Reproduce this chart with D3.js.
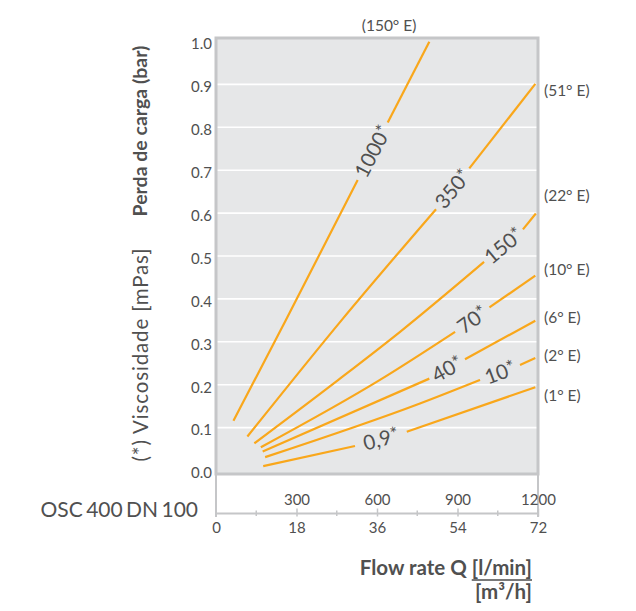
<!DOCTYPE html>
<html><head><meta charset="utf-8">
<script src="https://cdn.jsdelivr.net/npm/d3@7/dist/d3.min.js"></script>
<style>
body{margin:0;background:#fff;}
text{font-family:Lato,"Noto Sans",sans-serif;fill:#505050;}
</style>
</head><body>
<svg id="chart" width="636" height="611"></svg>
<script>
// ---------- data ----------
const viscosity = ["1000", "350", "150", "70", "40", "10", "0,9"];
const engler = ["(150° E)", "(51° E)", "(22° E)", "(10° E)", "(6° E)", "(2° E)", "(1° E)"];
// where each Engler label sits, in chart units [Q l/min, bar]
const englerAt = [[645, 1.037], [1200, 0.885], [1200, 0.64], [1200, 0.467], [1200, 0.355], [1200, 0.267], [1200, 0.174]];
// curves: [Q l/min, pressure drop bar]
const c1000 = [[65, 0.115], [261, 0.35], [528, 0.676], [640, 0.81], [795, 0.998]];
const c350 = [[117, 0.078], [469, 0.35], [820, 0.608], [944, 0.703], [1190, 0.9]];
const c150 = [[143, 0.062], [456, 0.21], [686, 0.322], [999, 0.485], [1144, 0.561], [1192, 0.598]];
const c70 = [[167, 0.053], [611, 0.21], [891, 0.322], [1019, 0.379], [1190, 0.453]];
const c40 = [[174, 0.043], [795, 0.213], [928, 0.258], [1190, 0.348]];
const c10 = [[183, 0.030], [760, 0.155], [984, 0.210], [1133, 0.245], [1190, 0.261]];
const c09 = [[176, 0.009], [518, 0.056], [711, 0.089], [1190, 0.193]];
const curves = [c1000, c350, c150, c70, c40, c10, c09];
// label gap sits between point i and i+1
const labelGap = [2, 2, 3, 2, 1, 2, 1];
const yTicks = [0, 0.1, 0.2, 0.3, 0.4, 0.5, 0.6, 0.7, 0.8, 0.9, 1.0];
const lminTicks = [300, 600, 900, 1200];
const lminMinor = [150, 450, 750, 1050];
const m3hTicks = [0, 18, 36, 54, 72];

// ---------- layout ----------
const svg = d3.select("#chart");
const x = d3.scaleLinear().domain([0, 1200]).range([216, 538]);
const xm3 = d3.scaleLinear().domain([0, 72]).range([216, 538]);
const y = d3.scaleLinear().domain([0, 1]).range([470, 41]);
const boxTop = 38, boxBottom = 474, axisY = 513.5;
const ORANGE = "#f9a71b", GREY = "#c5c6c8", TXT = "#4d4d4d";
const FONT = "Lato, 'Noto Sans', sans-serif";

// plot background
svg.append("rect").attr("x", x(0)).attr("y", boxTop)
  .attr("width", x(1200) - x(0)).attr("height", boxBottom - boxTop)
  .attr("fill", "#e6e7e8");

// gridlines via axis
const grid = svg.append("g").attr("transform", `translate(${x(0)},0)`)
  .call(d3.axisRight(y).tickValues(yTicks.slice(1, 10)).tickSize(x(1200) - x(0)).tickFormat(""));
grid.select(".domain").remove();
grid.selectAll("line").attr("stroke", "#fff").attr("stroke-width", 1.6);

// border
svg.append("rect").attr("x", x(0)).attr("y", boxTop)
  .attr("width", x(1200) - x(0)).attr("height", boxBottom - boxTop)
  .attr("fill", "none").attr("stroke", GREY).attr("stroke-width", 3);

// y tick labels
const ya = svg.append("g").attr("transform", `translate(${x(0)},3)`)
  .call(d3.axisLeft(y).tickValues(yTicks).tickSize(0).tickPadding(4).tickFormat(d3.format(".1f")));
ya.select(".domain").remove();
ya.selectAll("text").attr("font-size", 15).attr("fill", TXT).style("font-family", FONT);

// curves
const line = d3.line().x(d => x(d[0])).y(d => y(d[1])).curve(d3.curveMonotoneX);
curves.forEach((pts, i) => {
  const g = labelGap[i];
  [pts.slice(0, g + 1), pts.slice(g + 1)].forEach(seg => {
    svg.append("path").attr("d", line(seg)).attr("fill", "none")
      .attr("stroke", ORANGE).attr("stroke-width", 2.2).attr("stroke-linecap", "butt");
  });
  const a = pts[g], b = pts[g + 1];
  const ax = x(a[0]), ay = y(a[1]), bx = x(b[0]), by = y(b[1]);
  const ang = Math.atan2(by - ay, bx - ax) * 180 / Math.PI;
  const t = svg.append("text")
    .attr("transform", `translate(${(ax + bx) / 2},${(ay + by) / 2}) rotate(${ang})`)
    .attr("text-anchor", "middle").attr("dy", "0.36em").attr("font-size", 20.5).attr("fill", "#4f4f4f");
  t.append("tspan").text(viscosity[i]);
  t.append("tspan").attr("font-size", 18).attr("dy", "-0.15em").text("*");
});

// Engler labels
engler.forEach((s, i) => {
  const p = englerAt[i];
  const top = i === 0;
  svg.append("text").attr("x", top ? x(p[0]) : x(p[0]) + 6).attr("y", y(p[1]))
    .attr("dy", "0.35em").attr("text-anchor", top ? "middle" : "start")
    .attr("font-size", 15.5).attr("fill", TXT).text(s);
});

// x axis: connectors, line, ticks
[0, 1200].forEach(v => {
  svg.append("line").attr("x1", x(v)).attr("x2", x(v)).attr("y1", boxBottom).attr("y2", axisY + 3.5)
    .attr("stroke", GREY).attr("stroke-width", 2);
});
const xTop = svg.append("g").attr("transform", `translate(0,${axisY})`)
  .call(d3.axisTop(x).tickValues(lminTicks).tickSize(5).tickPadding(4).tickFormat(d3.format("d")));
xTop.select(".domain").attr("stroke", GREY).attr("stroke-width", 2).attr("d", `M${x(0)},0H${x(1200)}`);
xTop.selectAll("line").attr("stroke", GREY).attr("stroke-width", 1.5).attr("y2", -5).attr("y1", 3);
xTop.selectAll("text").attr("font-size", 15).attr("fill", TXT).style("font-family", FONT);

svg.append("g").selectAll("line").data(lminMinor).join("line")
  .attr("x1", d => x(d)).attr("x2", d => x(d)).attr("y1", axisY - 3).attr("y2", axisY + 2.5)
  .attr("stroke", GREY).attr("stroke-width", 1.5);

const xBot = svg.append("g").attr("transform", `translate(0,${axisY})`)
  .call(d3.axisBottom(xm3).tickValues(m3hTicks).tickSize(0).tickPadding(9).tickFormat(d3.format("d")));
xBot.select(".domain").remove();
xBot.selectAll("text").attr("font-size", 15).attr("fill", TXT).style("font-family", FONT);

// titles
svg.append("text").attr("x", 198).attr("y", 517).attr("text-anchor", "end")
  .attr("font-size", 21).attr("word-spacing", -2).attr("fill", TXT).text("OSC 400 DN 100");

svg.append("text").attr("transform", "translate(147,131) rotate(-90)").attr("text-anchor", "middle")
  .attr("font-size", 19.5).attr("font-weight", "bold").attr("fill", TXT).text("Perda de carga (bar)");
svg.append("text").attr("transform", "translate(148,355) rotate(-90)").attr("text-anchor", "middle")
  .attr("font-size", 20.5).attr("textLength", 213).attr("lengthAdjust", "spacing")
  .attr("fill", TXT).text("(*) Viscosidade [mPas]");

const xt = svg.append("text").attr("x", 532).attr("y", 575).attr("text-anchor", "end")
  .attr("font-size", 20.5).attr("font-weight", "bold").attr("fill", TXT);
xt.append("tspan").text("Flow rate Q ");
xt.append("tspan").text("[l/min]");
svg.append("text").attr("x", 532).attr("y", 599).attr("text-anchor", "end")
  .attr("font-size", 20.5).attr("font-weight", "bold").attr("fill", TXT).text("[m³/h]");
// fraction bar under [l/min]
const tmp = svg.append("text").attr("font-size", 20.5).attr("font-weight", "bold").text("[l/min]");
const w = tmp.node().getComputedTextLength();
tmp.remove();
svg.append("line").attr("x1", 532 - w).attr("x2", 532).attr("y1", 580).attr("y2", 580)
  .attr("stroke", TXT).attr("stroke-width", 1.5);
</script>
</body></html>
